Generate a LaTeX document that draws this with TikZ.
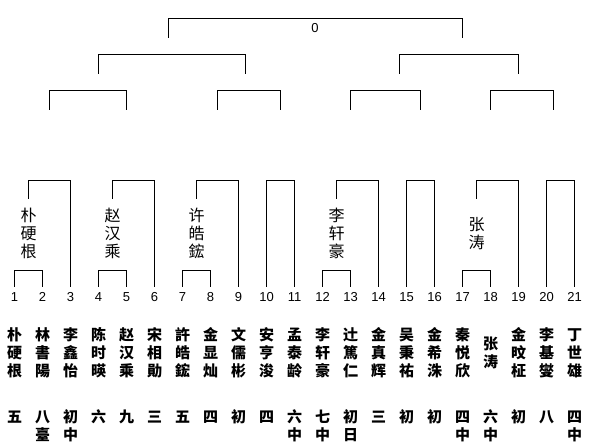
\documentclass[tikz,border=0pt]{standalone}
\usepackage{fontspec}
\setmainfont{Liberation Sans}
\newfontfamily\cjk{Noto Sans CJK SC}
\begin{document}
\begin{tikzpicture}[x=1pt,y=-1pt,
  br/.style={line width=1.1pt,line cap=rect},
  num/.style={inner sep=0pt,font=\fontsize{13}{13}\selectfont},
  topname/.style={inner sep=0pt,text height=0.88em,text depth=0.12em,font=\cjk\fontsize{16}{16}\selectfont},
  botname/.style={inner sep=0pt,text height=0.88em,text depth=0.12em,font=\cjk\bfseries\fontsize{15}{15}\selectfont}]
\useasboundingbox (0,0) rectangle (589,443);
% top levels
\draw[br] (168.5,37) -- (168.5,18.5) -- (462.5,18.5) -- (462.5,37);
\node[num] (zero) at (315,28) {0};
\draw[br] (98.5,73) -- (98.5,54.5) -- (245.5,54.5) -- (245.5,73);
\draw[br] (399.5,73) -- (399.5,54.5) -- (518.5,54.5) -- (518.5,73);
\draw[br] (49.5,109) -- (49.5,90.5) -- (126.5,90.5) -- (126.5,109);
\draw[br] (217.5,109) -- (217.5,90.5) -- (280.5,90.5) -- (280.5,109);
\draw[br] (350.5,109) -- (350.5,90.5) -- (420.5,90.5) -- (420.5,109);
\draw[br] (490.5,109) -- (490.5,90.5) -- (553.5,90.5) -- (553.5,109);
% first round pairs
\foreach \a/\b in {14.5/42.5,98.5/126.5,182.5/210.5,322.5/350.5,462.5/490.5}
  \draw[br] (\a,286) -- (\a,270.5) -- (\b,270.5) -- (\b,286);
% winners vs third
\foreach \a/\b in {28.5/70.5,112.5/154.5,196.5/238.5,336.5/378.5,476.5/518.5}
  \draw[br] (\a,198) -- (\a,180.5) -- (\b,180.5) -- (\b,286);
% plain pairs
\foreach \a/\b in {266.5/294.5,406.5/434.5,546.5/574.5}
  \draw[br] (\a,286) -- (\a,180.5) -- (\b,180.5) -- (\b,286);
% numbers
\foreach \i in {1,...,21}
  \node[num] (n\i) at ({14.5+28*(\i-1)},297) {\i};
% upper names
\foreach \c/\s/\t [count=\k] in {28.5/218/{朴,硬,根},112.5/218/{赵,汉,乘},196.5/218/{许,皓,鋐},336.5/218/{李,轩,豪},476.5/227/{张,涛}}
  \foreach \ch [count=\r] in \t
    \node[topname] (u\k-\r) at (\c,{\s+18*(\r-1)}) {\ch};
% lower names
\foreach \s/\t [count=\i] in {337/{朴,硬,根},337/{林,書,陽},337/{李,鑫,怡},337/{陈,时,暎},337/{赵,汉,乘},337/{宋,相,勛},337/{許,皓,鋐},337/{金,显,灿},337/{文,儒,彬},337/{安,亨,浚},337/{孟,泰,龄},337/{李,轩,豪},337/{辻,篤,仁},337/{金,真,辉},337/{吴,秉,祐},337/{金,希,洙},337/{秦,悦,欣},346/{张,涛},337/{金,旼,柾},337/{李,基,燮},337/{丁,世,雄}}
  \foreach \ch [count=\r] in \t
    \node[botname] (b\i-\r) at ({14.5+28*(\i-1)},{\s+18*(\r-1)}) {\ch};
% ranks
\foreach \t [count=\i] in {{五},{八,臺},{初,中},{六},{九},{三},{五},{四},{初},{四},{六,中},{七,中},{初,日},{三},{初},{初},{四,中},{六,中},{初},{八},{四,中}}
  \foreach \ch [count=\r] in \t
    \node[botname] (r\i-\r) at ({14.5+28*(\i-1)},{419+18*(\r-1)}) {\ch};
\end{tikzpicture}
\end{document}
